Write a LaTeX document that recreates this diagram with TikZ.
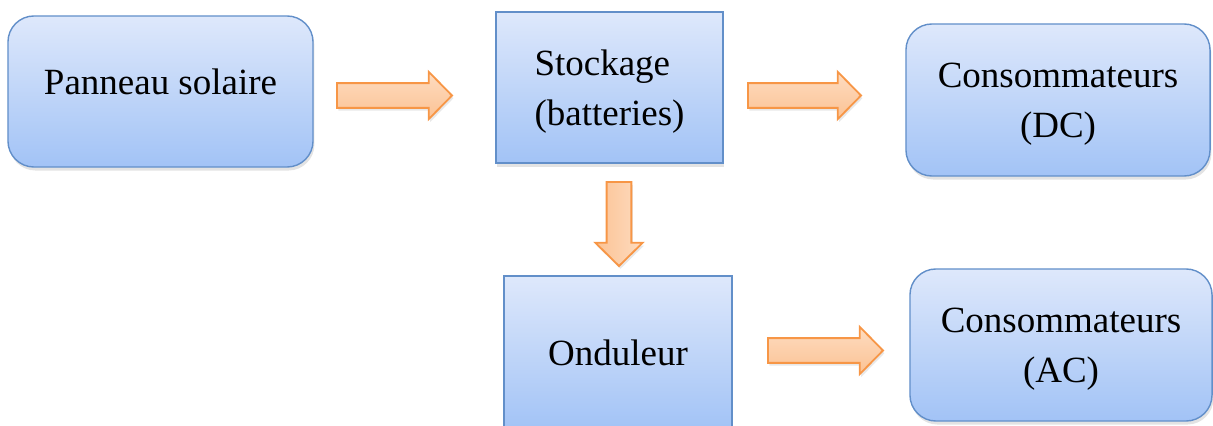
\documentclass[tikz,border=0pt]{standalone}
\usepackage{fontspec}
\setmainfont{Liberation Serif}
\usepackage{xcolor}
\usetikzlibrary{calc,shadows}
\definecolor{boxtop}{RGB}{222,232,251}
\definecolor{boxbottom}{RGB}{162,195,246}
\definecolor{boxline}{RGB}{98,143,201}
\definecolor{arrline}{RGB}{247,150,70}
\definecolor{arrdark}{RGB}{251,194,148}
\definecolor{arrlight}{RGB}{254,220,192}
\tikzset{
  box/.style={rectangle, draw=boxline, line width=1pt,
              top color=boxtop, bottom color=boxbottom,
              drop shadow={shadow xshift=1pt, shadow yshift=-2.5pt, opacity=0.22},
              font=\fontsize{26.3}{35.6}\selectfont, inner sep=0pt, text depth=0pt},
  rbox/.style={box, rounded corners=0.65cm},
  fatarr/.style={draw=arrline, line width=1.3pt,
              drop shadow={shadow xshift=1pt, shadow yshift=-2pt, opacity=0.18},
              to path={
                ($(\tikztotarget)!0.58cm!(\tikztostart)$) coordinate (fah)
                ($(\tikztostart)!0.31cm!90:(\tikztotarget)$)
                -- ($(fah)!0.31cm!90:(\tikztotarget)$)
                -- ($(fah)!0.59cm!90:(\tikztotarget)$)
                -- (\tikztotarget)
                -- ($(fah)!0.59cm!-90:(\tikztotarget)$)
                -- ($(fah)!0.31cm!-90:(\tikztotarget)$)
                -- ($(\tikztostart)!0.31cm!-90:(\tikztotarget)$) -- cycle}},
  harr/.style={fatarr, top color=arrlight, bottom color=arrdark},
  varr/.style={fatarr, left color=arrdark, right color=arrlight},
}
\begin{document}
\begin{tikzpicture}[x=0.025cm, y=-0.025cm]
  \useasboundingbox (0,0) rectangle (1213,426);
  % blocks
  \node[rbox, minimum width=7.625cm, minimum height=3.775cm, text depth=0.5cm] (pan)
        at (160.5,91.5) {Panneau solaire};
  \node[box, minimum width=5.675cm, minimum height=3.775cm, align=left] (stock)
        at (609.5,87.5) {Stockage\\(batteries)};
  \node[rbox, minimum width=7.6cm, minimum height=3.8cm, align=center] (dc)
        at (1058,100) {Consommateurs\\(DC)};
  \node[box, minimum width=5.7cm, minimum height=3.85cm] (ond)
        at (618,353) {Onduleur};
  \node[rbox, minimum width=7.55cm, minimum height=3.8cm, align=center] (ac)
        at (1061,345) {Consommateurs\\(AC)};
  % arrow ends
  \coordinate (a1s) at (337,95.5);  \coordinate (a1e) at (452,95.5);
  \coordinate (a2s) at (748,95.5);  \coordinate (a2e) at (861,95.5);
  \coordinate (a3s) at (619,182);   \coordinate (a3e) at (619,266);
  \coordinate (a4s) at (768,350.5); \coordinate (a4e) at (883,350.5);
  \draw[harr] (a1s) to (a1e);
  \draw[harr] (a2s) to (a2e);
  \draw[varr] (a3s) to (a3e);
  \draw[harr] (a4s) to (a4e);
\end{tikzpicture}
\end{document}
